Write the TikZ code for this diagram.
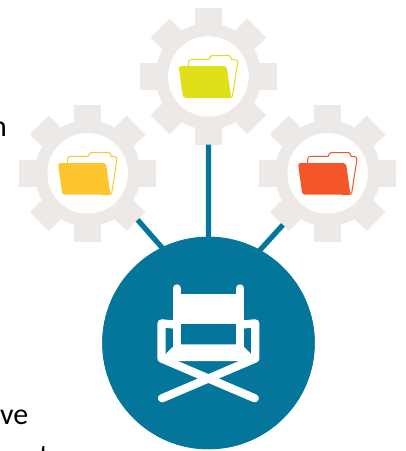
\documentclass[tikz,border=0pt]{standalone}
\usepackage{fontspec}
\setmainfont{Carlito}
\definecolor{gearc}{HTML}{ECE9E6}
\definecolor{teal}{HTML}{04759B}
\definecolor{fy}{HTML}{E0E01A}
\definecolor{fa}{HTML}{FFC52E}
\definecolor{fo}{HTML}{F45627}
\tikzset{x=1pt,y=-1pt,
  link/.style={draw=teal,line width=5.2pt},
  hubc/.style={circle,fill=teal,minimum size=212.5pt,inner sep=0pt,outer sep=0pt},
  gearanchor/.style={circle,minimum size=136.6pt,inner sep=0pt,outer sep=0pt},
  chairline/.style={draw=white,line width=8.2pt,line cap=round,line join=round},
  txt/.style={inner sep=0pt,outer sep=0pt,anchor=base west,font=\fontsize{30}{36}\selectfont,text=black}}
\newcommand{\foldergear}[4]{% name, x, y, colour
  \node[gearanchor] (#1) at (#2,#3) {};
  \begin{scope}[shift={(#2,#3)}]
    \foreach \a in {0,45,...,315}{
      \fill[gearc,rotate=\a] (-13.3,-68.3) rectangle (13.3,-40);
    }
    \fill[gearc] (0,0) circle (53);
    \fill[white] (0,0) circle (40.3);
    \draw[#4,line width=1pt,line join=round,fill=white]
      (-20,-9) -- (-20,-14) .. controls (-20,-16) and (-18.7,-17) .. (-16.7,-17)
      -- (0.5,-17) -- (1.3,-19) .. controls (1.6,-20.2) and (2.3,-20.7) .. (3.3,-20.7)
      -- (21,-20.7) .. controls (22,-20.7) and (22.6,-20) .. (22.8,-19) -- (23.2,-17) -- (26.5,-16.8)
      .. controls (28.5,-16.6) and (29.5,-15.5) .. (29.2,-13.5) -- (24.2,18.5) .. controls (23.9,20.3) and (23,21.2) .. (21,21.2)
      -- (15,21.2) -- (10,-9) -- cycle;
    \fill[#4] (-27,-10.3) -- (15.5,-10.3) .. controls (17.5,-10.3) and (18.4,-9) .. (18.8,-7)
      -- (22.7,21.4) -- (-22.5,21.4) .. controls (-24.5,21.4) and (-25.5,20.3) .. (-25.8,18.5)
      -- (-29.4,-7.5) .. controls (-29.6,-9.3) and (-28.8,-10.3) .. (-27,-10.3) -- cycle;
  \end{scope}
}
\begin{document}
\begin{tikzpicture}
\useasboundingbox (0,0) rectangle (406,451);
\foldergear{gt}{208.4}{76.4}{fy}
\foldergear{gl}{87.7}{173.3}{fa}
\foldergear{gr}{327.7}{173.3}{fo}
\node[hubc] (hub) at (208.5,343) {};
\coordinate (la) at (gl.-43);
\coordinate (ra) at (gr.229);
\draw[link,shorten >=-4pt] (la) -- (hub.116);
\draw[link,shorten >=-4pt] (ra) -- (hub.61);
\draw[link,shorten >=-2pt] (gt.south) -- (hub.north);
\node[hubc] at (hub.center) {};
% chair
\fill[white] (176.7,294) rectangle (240.1,324);
\draw[chairline] (176.7,288.4) -- (176.7,350);
\draw[chairline] (240.1,288.4) -- (240.1,350);
\draw[chairline] (176.7,324.8) -- (161.5,323.3) -- (161.5,358.5) -- (254.8,398.3);
\draw[chairline] (240.1,324.8) -- (255.3,323.3) -- (255.3,358.5) -- (162,398.3);
\fill[white] (181,344.3) -- (172.3,347.3) -- (165.7,354) -- (160,361) -- (257,361) -- (251,354) -- (244.4,347.3) -- (235.8,344.3) -- cycle;
\node[txt] (tn) at (-9,136) {n};
\node[txt] (tv) at (0,424.5) {ve};
\node[txt] (tb) at (39,465) {t};
\end{tikzpicture}
\end{document}
